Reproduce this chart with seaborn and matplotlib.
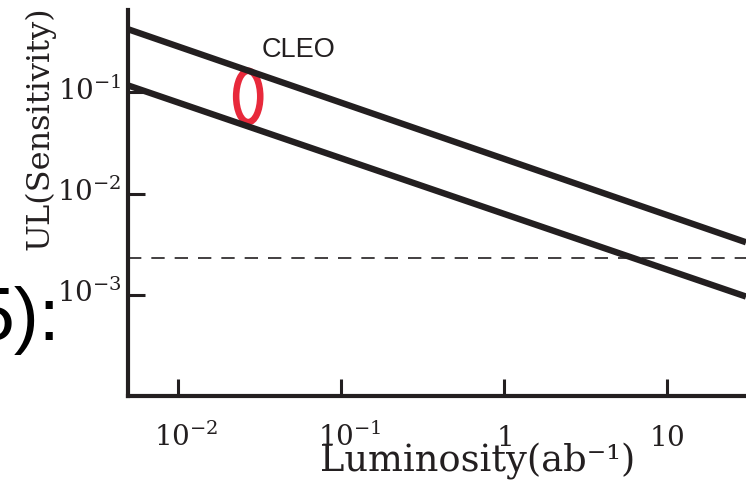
import numpy as np
import pandas as pd
import matplotlib
matplotlib.use("Agg")
import matplotlib.pyplot as plt
from matplotlib.patches import Ellipse
from matplotlib.transforms import ScaledTranslation
import seaborn as sns

# ---- data ----
luminosity = [0.0049, 30.5]            # ab^-1, ends of the two lines
ul_upper = [0.42, 3.3e-3]              # upper sensitivity band edge
ul_lower = [0.117, 9.6e-4]             # lower sensitivity band edge
dashed_level = 2.33e-3                 # horizontal dashed reference
x_ticks = [0.01, 0.1, 1, 10]
x_tick_labels = [r"$10^{-2}$", r"$10^{-1}$", r"$1$", r"$10$"]
y_ticks = [1e-1, 1e-2, 1e-3]
y_tick_labels = [r"$10^{-1}$", r"$10^{-2}$", r"$10^{-3}$"]
x_range = [0.0049, 30.5]
y_range = [1.0e-4, 0.65]
cleo_label = "CLEO"
cleo_pos = [0.0325, 0.222]             # data coords of the label (left, baseline)

sns.set_theme(style="white")
plt.rcParams["font.family"] = ["DejaVu Serif"]
plt.rcParams["mathtext.fontset"] = "dejavuserif"

INK = "#231f20"
RED = "#e8293b"

df = pd.DataFrame({
    "lum": luminosity * 2,
    "ul": ul_upper + ul_lower,
    "band": ["upper"] * 2 + ["lower"] * 2,
})

fig = plt.figure(figsize=(7.46, 4.92), dpi=100)
ax = fig.add_axes([128 / 746, 96 / 492, 618 / 746, 386 / 492])

sns.lineplot(data=df, x="lum", y="ul", units="band", estimator=None,
             color=INK, lw=4.6, ax=ax, legend=False, solid_capstyle="butt")
ax.axhline(dashed_level, color=INK, lw=1.2, dashes=(8, 6))

ax.set_xscale("log")
ax.set_yscale("log")
ax.set_xlim(*x_range)
ax.set_ylim(*y_range)

ax.set_xticks(x_ticks)
ax.set_xticklabels(x_tick_labels)
ax.set_yticks(y_ticks)
ax.set_yticklabels(y_tick_labels)
ax.minorticks_off()
ax.tick_params(axis="both", which="major", direction="in", length=12.5,
               width=2.2, color=INK, labelsize=20, labelcolor=INK,
               bottom=True, left=True, top=False, right=False)
ax.tick_params(axis="x", pad=36)
ax.tick_params(axis="y", pad=4.5)

# center the mantissa "10" on each tick like the reference
for lbl, txt in zip(ax.get_xticklabels(), x_tick_labels):
    lbl.set_va("baseline")
    if "^" in txt:
        lbl.set_transform(lbl.get_transform() +
                          ScaledTranslation(8 / 100, 0, fig.dpi_scale_trans))
for lbl in ax.get_yticklabels():
    lbl.set_transform(lbl.get_transform() +
                      ScaledTranslation(0, 4 / 100, fig.dpi_scale_trans))

for side in ["top", "right"]:
    ax.spines[side].set_visible(False)
for side in ["left", "bottom"]:
    ax.spines[side].set_color(INK)
    ax.spines[side].set_linewidth(3)
    ax.spines[side].set_capstyle("projecting")

ax.set_xlabel("Luminosity(ab⁻¹)", fontsize=26.5, color=INK)
ax.xaxis.set_label_coords(0.566, -0.194)
ax.xaxis.label.set_va("baseline")
ax.set_ylabel("UL(Sensitivity)", fontsize=23, color=INK)
ax.yaxis.set_label_coords(-0.142, 0.694)
ax.yaxis.label.set_va("center")

ax.text(cleo_pos[0], cleo_pos[1], cleo_label, family=["Liberation Sans"],
        fontsize=19.5, color=INK, ha="left", va="baseline")

ax.add_patch(Ellipse((0.1945, 0.776), 0.039, 0.133, transform=ax.transAxes,
                     fill=False, edgecolor=RED, lw=4.7, clip_on=False))

fig.text(61 / 746, 1 - 340 / 492, "5):", family=["Liberation Sans"],
         fontsize=54, color="black", ha="right", va="baseline")

fig.savefig("out.png", dpi=100, facecolor="white")
